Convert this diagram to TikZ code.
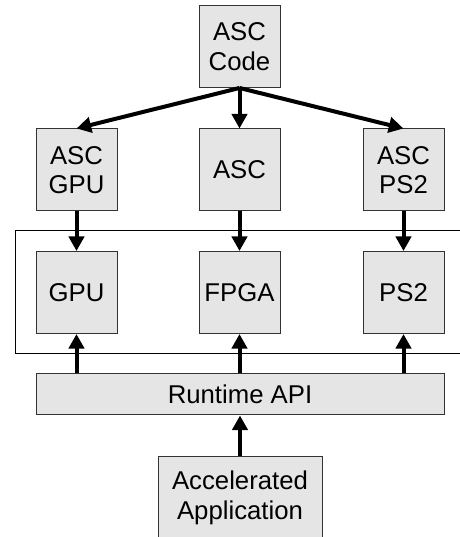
\documentclass[tikz,border=0pt]{standalone}
\usepackage{fontspec}
\setmainfont{Liberation Sans}
\usetikzlibrary{arrows.meta}

\begin{document}
\begin{tikzpicture}[x=0.75pt,y=0.75pt,
  blk/.style={draw=black!80, fill=black!10, line width=0.75pt, minimum width=60.75pt,
    minimum height=61.5pt, inner sep=0pt, align=center, font=\fontsize{19.3}{22}\selectfont},
  flow/.style={line width=3pt, -{Triangle[width=11.5pt,length=11pt]}}]
\useasboundingbox (0,0) rectangle (460,537);
\clip (0,0) rectangle (460,537);
% hardware frame
\draw[line width=0.75pt] (15,306) rectangle (475,183);
\node[blk] (code) at (239.5,490.5) {ASC\\Code};
\foreach \x/\n/\c/\h in {76.5/gpu/ASC\\GPU/GPU, 239.5/fpga/ASC/FPGA, 403.5/ps2/ASC\\PS2/PS2} {
  \node[blk] (asc\n) at (\x,367) {\c};
  \node[blk] (\n) at (\x,244.5) {\h};
}
\node[blk, minimum width=306pt, minimum height=30.75pt] (api) at (240,142.5) {Runtime API};
\node[blk, minimum width=123pt] (app) at (240,39) {Accelerated\\Application};
% compile flow
\foreach \n in {gpu,fpga,ps2} {
  \draw[flow] (code.south) -- (asc\n.north);
  \draw[flow] (asc\n) -- (\n);
  \draw[flow] (api.north -| \n) -- (\n);
}
\draw[flow] (app) -- (api);
\end{tikzpicture}
\end{document}
